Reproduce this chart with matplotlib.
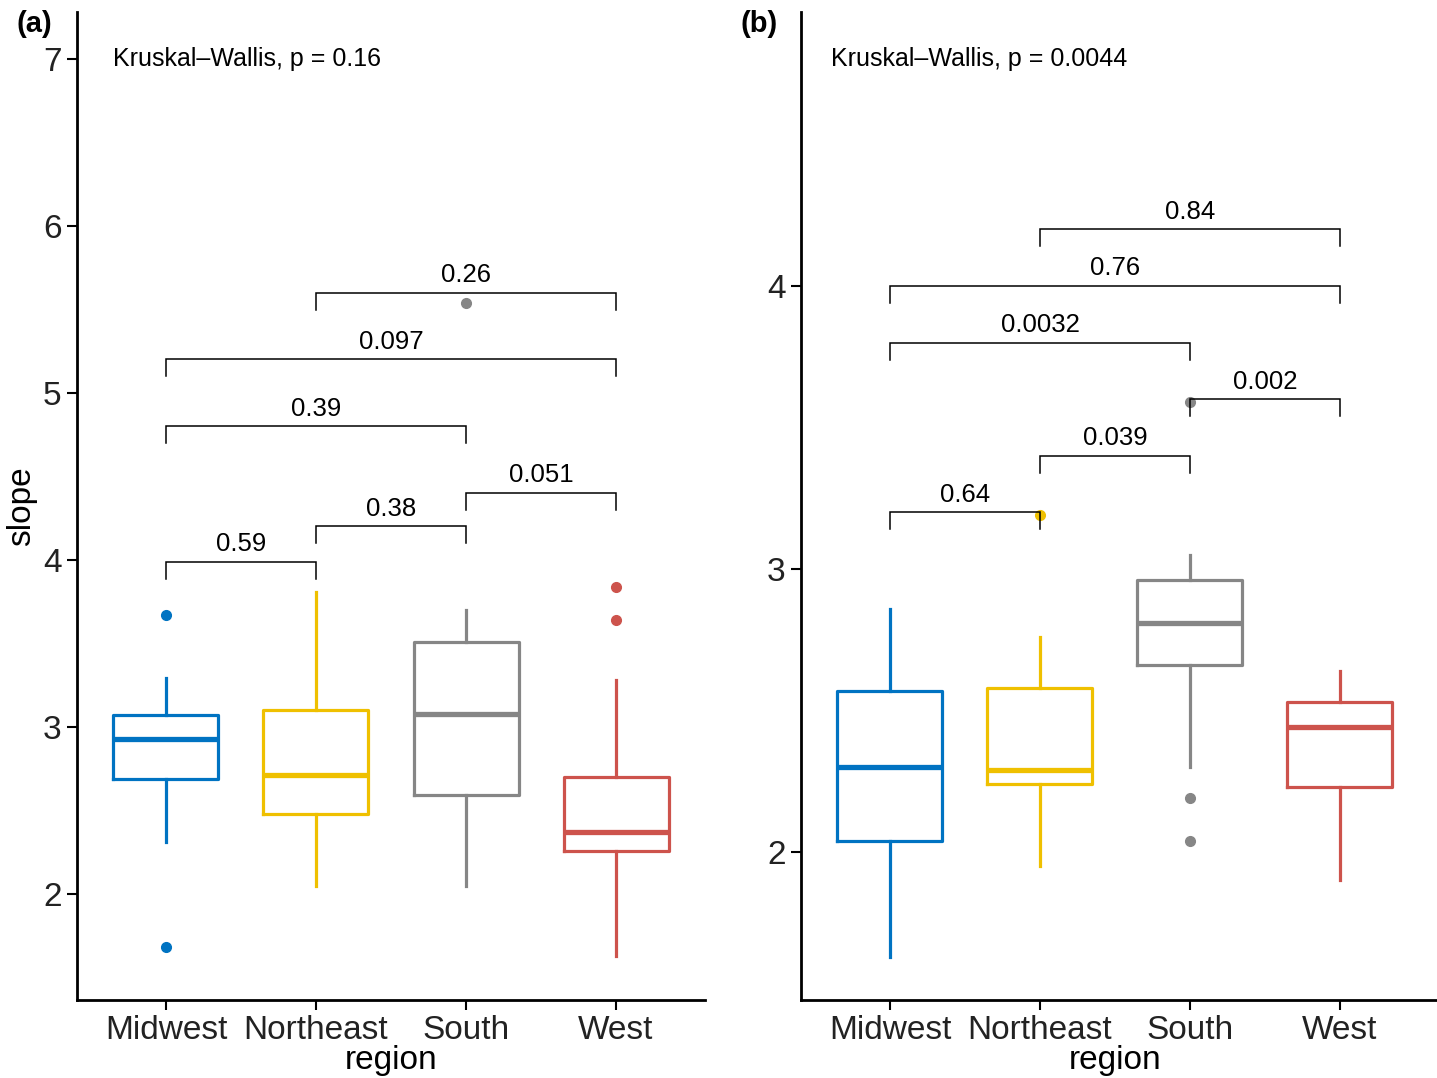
import matplotlib
matplotlib.use('Agg')
import matplotlib.pyplot as plt

# Data
REGIONS = ['Midwest', 'Northeast', 'South', 'West']
COLORS = ['#0073C2', '#EFC000', '#868686', '#CD534C']

# panel (a): slope
A_Q1 = [2.69, 2.48, 2.59, 2.26]
A_MED = [2.93, 2.71, 3.08, 2.37]
A_Q3 = [3.07, 3.10, 3.51, 2.70]
A_WLO = [2.31, 2.05, 2.05, 1.63]
A_WHI = [3.29, 3.81, 3.70, 3.28]
A_FLIERS = [[3.67, 1.68], [], [5.54], [3.84, 3.64]]
A_PAIRS = [(1, 2), (2, 3), (3, 4), (1, 3), (1, 4), (2, 4)]
A_PY = [3.99, 4.20, 4.40, 4.80, 5.20, 5.60]
A_PLAB = ['0.59', '0.38', '0.051', '0.39', '0.097', '0.26']
A_KW = 'Kruskal\u2013Wallis, p = 0.16'

# panel (b)
B_Q1 = [2.04, 2.24, 2.66, 2.23]
B_MED = [2.30, 2.29, 2.81, 2.44]
B_Q3 = [2.57, 2.58, 2.96, 2.53]
B_WLO = [1.63, 1.95, 2.30, 1.90]
B_WHI = [2.86, 2.76, 3.05, 2.64]
B_FLIERS = [[], [3.19], [3.59, 2.19, 2.04], []]
B_PAIRS = [(1, 2), (2, 3), (3, 4), (1, 3), (1, 4), (2, 4)]
B_PY = [3.20, 3.40, 3.60, 3.80, 4.00, 4.20]
B_PLAB = ['0.64', '0.039', '0.002', '0.0032', '0.76', '0.84']
B_KW = 'Kruskal\u2013Wallis, p = 0.0044'

plt.rcParams['font.family'] = ['Liberation Sans', 'DejaVu Sans']

W, H = 1437, 1078
fig = plt.figure(figsize=(W / 100, H / 100), dpi=100)


def draw_panel(rect, q1, med, q3, wlo, whi, fliers, pairs, py, plab, kw,
               ylim, xlim, yticks, tag, tag_x, kw_x, ylabel=None, xlab_x=0.5):
    ax = fig.add_axes(rect)
    stats = []
    for i in range(len(REGIONS)):
        stats.append(dict(med=med[i], q1=q1[i], q3=q3[i], whislo=wlo[i],
                          whishi=whi[i], fliers=fliers[i], label=REGIONS[i]))
    bp = ax.bxp(stats, positions=range(1, 5), widths=0.7, showcaps=False,
                patch_artist=False)
    for i, c in enumerate(COLORS):
        bp['boxes'][i].set(color=c, linewidth=2.3)
        bp['medians'][i].set(color=c, linewidth=3.8)
        bp['whiskers'][2 * i].set(color=c, linewidth=2.3)
        bp['whiskers'][2 * i + 1].set(color=c, linewidth=2.3)
        bp['fliers'][i].set(marker='o', markerfacecolor=c, markeredgecolor=c,
                            markersize=7, linestyle='none')

    ax.set_xlim(*xlim)
    ax.set_ylim(*ylim)
    # bracket tip length of ~17 px
    ax_h_px = rect[3] * H
    tip = 17 * (ylim[1] - ylim[0]) / ax_h_px
    for (g1, g2), y, lab in zip(pairs, py, plab):
        ax.plot([g1, g1, g2, g2], [y - tip, y, y, y - tip], color='black',
                linewidth=1.1, solid_joinstyle='miter')
        ax.annotate(lab, xy=((g1 + g2) / 2, y), xytext=(0, 4),
                    textcoords='offset points', ha='center', va='bottom',
                    fontsize=18.5)

    ax.text(kw_x, 0.952, kw, transform=ax.transAxes,
            ha='left', va='center', fontsize=18)

    ax.set_yticks(yticks)
    ax.set_yticklabels([str(t) for t in yticks])
    ax.set_xticks(range(1, 5))
    ax.set_xticklabels(REGIONS)
    ax.tick_params(axis='both', labelsize=24, length=7, width=1.5,
                   color='black', labelcolor='#222222', pad=4)
    for s in ['top', 'right']:
        ax.spines[s].set_visible(False)
    for s in ['left', 'bottom']:
        ax.spines[s].set_linewidth(2.0)

    ax.set_xlabel('region', fontsize=24)
    ax.xaxis.set_label_coords(xlab_x, -0.046)
    if ylabel:
        ax.set_ylabel(ylabel, fontsize=24)
        ax.yaxis.set_label_coords(-0.064, 0.5)

    fig.text(tag_x, 0.978, tag, fontsize=21, fontweight='bold',
             ha='left', va='center')
    return ax


rect_a = [77 / W, 1 - 1000 / H, (705 - 77) / W, (1000 - 12) / H]
rect_b = [801 / W, 1 - 1000 / H, (1437 - 801) / W, (1000 - 12) / H]

draw_panel(rect_a, A_Q1, A_MED, A_Q3, A_WLO, A_WHI, A_FLIERS, A_PAIRS, A_PY,
           A_PLAB, A_KW, ylim=(1.365, 7.28), xlim=(0.407, 4.593),
           yticks=[2, 3, 4, 5, 6, 7], tag='(a)', tag_x=16 / W, kw_x=0.057,
           ylabel='slope')
draw_panel(rect_b, B_Q1, B_MED, B_Q3, B_WLO, B_WHI, B_FLIERS, B_PAIRS, B_PY,
           B_PLAB, B_KW, ylim=(1.477, 4.968), xlim=(0.407, 4.647),
           yticks=[2, 3, 4], tag='(b)', tag_x=740 / W, kw_x=0.047,
           xlab_x=0.494)

fig.savefig('out.png', dpi=100)
